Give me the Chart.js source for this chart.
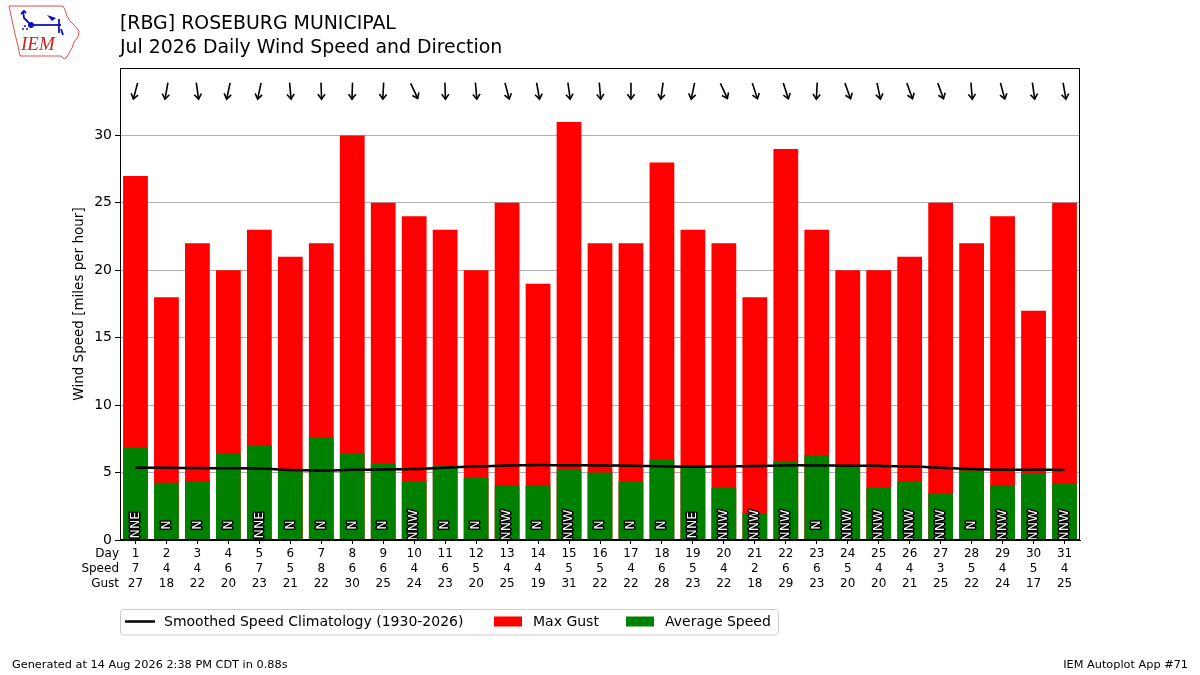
<!DOCTYPE html>
<html>
<head>
<meta charset="utf-8">
<script src="https://cdn.jsdelivr.net/npm/chart.js@4.4.1/dist/chart.umd.min.js"></script>
<style>
html,body{margin:0;padding:0;background:#fff;}
#wrap{position:relative;width:1200px;height:675px;}
</style>
</head>
<body>
<div id="wrap"><canvas id="c" width="1200" height="675"></canvas></div>
<script>
// ---- data ----
const days = ['1','2','3','4','5','6','7','8','9','10','11','12','13','14','15','16','17','18','19','20','21','22','23','24','25','26','27','28','29','30','31'];
const avgSpeed = [6.9,4.25,4.35,6.4,7.0,5.1,7.6,6.4,5.7,4.35,5.5,4.6,4.05,4.0,5.2,5.0,4.3,5.95,5.4,3.9,2.0,5.8,6.3,5.4,3.9,4.3,3.45,5.15,4.05,4.95,4.2];
const maxGust = [27,18,22,20,23,21,22,30,25,24,23,20,25,19,31,22,22,28,23,22,18,29,23,20,20,21,25,22,24,17,25];
const speedLabels = ['7','4','4','6','7','5','8','6','6','4','6','5','4','4','5','5','4','6','5','4','2','6','6','5','4','4','3','5','4','5','4'];
const gustLabels = ['27','18','22','20','23','21','22','30','25','24','23','20','25','19','31','22','22','28','23','22','18','29','23','20','20','21','25','22','24','17','25'];
const climo = [5.36,5.35,5.33,5.32,5.3,5.19,5.16,5.2,5.23,5.26,5.36,5.46,5.53,5.56,5.54,5.53,5.5,5.46,5.43,5.46,5.48,5.53,5.53,5.51,5.5,5.46,5.36,5.26,5.21,5.21,5.19];
const dirText = ['NNE','N','N','N','NNE','N','N','N','N','NNW','N','N','NNW','N','NNW','N','N','N','NNE','NNW','NNW','NNW','N','NNW','NNW','NNW','NNW','N','NNW','NNW','NNW'];
const dirDeg = [15,10,352,12,12,355,358,2,3,335,358,355,345,350,352,355,0,8,12,335,342,342,3,340,348,340,340,355,345,352,350];
const yTicks = [0,5,10,15,20,25,30];
const rowNames = ['Day','Speed','Gust'];
const titleLines = ['[RBG] ROSEBURG MUNICIPAL','Jul 2026 Daily Wind Speed and Direction'];
const legendItems = ['Smoothed Speed Climatology (1930-2026)','Max Gust','Average Speed'];
const footerLeft = 'Generated at 14 Aug 2026 2:38 PM CDT in 0.88s';
const footerRight = 'IEM Autoplot App #71';

const FONT = "'DejaVu Sans', 'Liberation Sans', sans-serif";
const xLabels = days.map((d,i)=>[d, speedLabels[i], gustLabels[i]]);

const TICK_LH = 14.6;
const TICK_TOP_PAD = 3;
const TICK_LEN = 4;

const extras = {
  id: 'extras',
  afterDatasetsDraw(chart) {
    const ctx = chart.ctx, x = chart.scales.x, y = chart.scales.y;
    ctx.save();
    ctx.font = "12.5px " + FONT;
    ctx.textAlign = 'center';
    ctx.textBaseline = 'middle';
    ctx.lineJoin = 'round';
    dirText.forEach((t,i)=>{
      const px = x.getPixelForValue(i), py = y.getPixelForValue(1.1);
      ctx.save();
      ctx.translate(px, py);
      ctx.rotate(-Math.PI/2);
      ctx.lineWidth = 3;
      ctx.strokeStyle = '#000';
      ctx.strokeText(t, 0, 0);
      ctx.fillStyle = '#fff';
      ctx.fillText(t, 0, 0);
      ctx.restore();
    });
    ctx.restore();
  },
  afterDraw(chart) {
    const ctx = chart.ctx, x = chart.scales.x, y = chart.scales.y, ca = chart.chartArea;
    ctx.save();
    // frame
    ctx.strokeStyle = '#000';
    ctx.lineWidth = 1;
    ctx.strokeRect(Math.round(ca.left)+0.5, Math.round(ca.top)+0.5, Math.round(ca.right-ca.left)-1, Math.round(ca.bottom-ca.top)-1);

    // arrows
    ctx.lineWidth = 1.6;
    ctx.strokeStyle = '#000';
    dirDeg.forEach((d,i)=>{
      const cx = x.getPixelForValue(i), cy = y.getPixelForValue(33.3);
      const toward = (d + 180) * Math.PI / 180;
      const ux = Math.sin(toward), uy = -Math.cos(toward);
      const L = 8.3;
      const x0 = cx - ux*L, y0 = cy - uy*L, x1 = cx + ux*L, y1 = cy + uy*L;
      ctx.beginPath(); ctx.moveTo(x0,y0); ctx.lineTo(x1,y1); ctx.stroke();
      const hl = 5, hw = 3.6;
      const bx = x1 - ux*hl, by = y1 - uy*hl;
      const nx = -uy, ny = ux;
      ctx.beginPath();
      ctx.moveTo(bx + nx*hw, by + ny*hw);
      ctx.lineTo(x1, y1);
      ctx.lineTo(bx - nx*hw, by - ny*hw);
      ctx.stroke();
    });

    // row labels
    ctx.fillStyle = '#000';
    ctx.font = "12px " + FONT;
    ctx.textAlign = 'right';
    ctx.textBaseline = 'middle';
    const top0 = ca.bottom + TICK_LEN + TICK_TOP_PAD;
    rowNames.forEach((n,k)=>{
      ctx.fillText(n, 119, top0 + TICK_LH*(k+0.5));
    });

    // title
    ctx.textAlign = 'left';
    ctx.textBaseline = 'middle';
    ctx.font = "18.9px " + FONT;
    ctx.fillText(titleLines[0], 120, 24);
    ctx.fillText(titleLines[1], 120, 48);

    // footer
    ctx.font = "11.3px " + FONT;
    ctx.textBaseline = 'middle';
    ctx.fillText(footerLeft, 12, 665);
    ctx.textAlign = 'right';
    ctx.fillText(footerRight, 1188, 665);

    // legend
    const lx = 120.5, ly = 609.5, lw = 658, lh = 25.5;
    ctx.strokeStyle = '#cccccc';
    ctx.lineWidth = 1;
    ctx.beginPath();
    if (ctx.roundRect) ctx.roundRect(lx, ly, lw, lh, 3); else ctx.rect(lx, ly, lw, lh);
    ctx.fillStyle = 'rgba(255,255,255,0.8)';
    ctx.fill();
    ctx.stroke();
    ctx.fillStyle = '#000';
    ctx.font = "14px " + FONT;
    ctx.textAlign = 'left';
    ctx.textBaseline = 'middle';
    const midY = 621.5;
    ctx.strokeStyle = '#000';
    ctx.lineWidth = 2.5;
    ctx.beginPath(); ctx.moveTo(125, midY); ctx.lineTo(155, midY); ctx.stroke();
    ctx.fillText(legendItems[0], 164, midY + 1);
    ctx.fillStyle = '#ff0000';
    ctx.fillRect(494, 616.5, 28, 10);
    ctx.fillStyle = '#000';
    ctx.fillText(legendItems[1], 533, midY + 1);
    ctx.fillStyle = '#008000';
    ctx.fillRect(626, 616.5, 28, 10);
    ctx.fillStyle = '#000';
    ctx.fillText(legendItems[2], 665, midY + 1);

    drawLogo(ctx);
    ctx.restore();
  }
};

function drawLogo(ctx) {
  ctx.save();
  ctx.strokeStyle = '#e05050';
  ctx.lineWidth = 1;
  ctx.beginPath();
  ctx.moveTo(9,6);
  ctx.lineTo(63,6);
  ctx.lineTo(65,10);
  ctx.lineTo(67,16);
  ctx.lineTo(70,21);
  ctx.lineTo(75,26);
  ctx.lineTo(79,31);
  ctx.lineTo(78,37);
  ctx.lineTo(74,42);
  ctx.lineTo(72,48);
  ctx.lineTo(69,53);
  ctx.lineTo(67,57);
  ctx.lineTo(64,59);
  ctx.lineTo(61,56);
  ctx.lineTo(20,56);
  ctx.lineTo(18,46);
  ctx.lineTo(15,34);
  ctx.lineTo(12,20);
  ctx.closePath();
  ctx.stroke();
  // blue figure
  ctx.strokeStyle = '#1010c0';
  ctx.fillStyle = '#1010c0';
  ctx.lineWidth = 1.8;
  ctx.beginPath(); ctx.moveTo(23,11); ctx.lineTo(24,18); ctx.lineTo(29,23); ctx.stroke();
  ctx.beginPath(); ctx.moveTo(21,14); ctx.lineTo(24,11); ctx.lineTo(26,13); ctx.stroke();
  ctx.beginPath(); ctx.arc(31,25,3,0,Math.PI*2); ctx.fill();
  ctx.beginPath(); ctx.moveTo(31,25); ctx.lineTo(61,25); ctx.stroke();
  ctx.beginPath(); ctx.moveTo(59,19); ctx.lineTo(59,33); ctx.stroke();
  ctx.beginPath(); ctx.moveTo(47,15); ctx.lineTo(56,18); ctx.lineTo(52,21); ctx.closePath(); ctx.fill();
  ctx.beginPath(); ctx.moveTo(61,29); ctx.lineTo(63,35); ctx.stroke();
  ctx.beginPath(); ctx.arc(25,26,1,0,Math.PI*2); ctx.fill();
  ctx.beginPath(); ctx.arc(23,29,1,0,Math.PI*2); ctx.fill();
  ctx.beginPath(); ctx.arc(27,29,1,0,Math.PI*2); ctx.fill();
  // IEM text
  ctx.fillStyle = '#d02020';
  ctx.font = "italic 19px 'Liberation Serif', 'DejaVu Serif', serif";
  ctx.textAlign = 'left';
  ctx.textBaseline = 'alphabetic';
  ctx.fillText('IEM', 21, 50);
  ctx.restore();
}

new Chart(document.getElementById('c'), {
  type: 'bar',
  data: {
    labels: xLabels,
    datasets: [
      {
        type: 'line',
        label: legendItems[0],
        data: climo,
        borderColor: '#000',
        borderWidth: 2.5,
        pointRadius: 0,
        tension: 0.4,
        fill: false,
        order: 0
      },
      {
        label: legendItems[2],
        data: avgSpeed,
        backgroundColor: '#008000',
        borderColor: '#008000',
        borderWidth: 0,
        inflateAmount: 0,
        grouped: false,
        barPercentage: 0.8,
        categoryPercentage: 1.0,
        order: 1
      },
      {
        label: legendItems[1],
        data: maxGust,
        backgroundColor: '#ff0000',
        borderColor: '#ff0000',
        borderWidth: 0,
        inflateAmount: 0,
        grouped: false,
        barPercentage: 0.8,
        categoryPercentage: 1.0,
        order: 2
      }
    ]
  },
  options: {
    responsive: false,
    animation: false,
    devicePixelRatio: 1,
    layout: { padding: { left: 0, right: 120, top: 68, bottom: 0 } },
    plugins: {
      legend: { display: false },
      tooltip: { enabled: false },
      title: { display: false }
    },
    scales: {
      x: {
        type: 'category',
        offset: true,
        afterFit(s) { s.height = 135; },
        grid: { offset: false, drawOnChartArea: false, drawTicks: true, tickLength: TICK_LEN, color: '#000', tickColor: '#000' },
        border: { display: true, color: '#000', width: 1 },
        ticks: {
          color: '#000',
          font: { family: FONT, size: 12, lineHeight: TICK_LH/12 },
          padding: TICK_TOP_PAD,
          maxRotation: 0,
          autoSkip: false
        }
      },
      y: {
        min: 0,
        max: 35,
        z: 1,
        afterFit(s) { s.width = 120; },
        afterBuildTicks(s) { s.ticks = yTicks.concat([35]).map(v => ({ value: v })); },
        grid: {
          color: (c) => (c.tick && c.tick.value === 35) ? 'rgba(0,0,0,0)' : '#b0b0b0',
          tickColor: (c) => (c.tick && c.tick.value === 35) ? 'rgba(0,0,0,0)' : '#000',
          tickLength: 5,
          lineWidth: 1
        },
        border: { display: true, color: '#000', width: 1 },
        ticks: {
          color: '#000',
          font: { family: FONT, size: 14 },
          padding: 3,
          callback: (v) => v === 35 ? '' : String(v)
        },
        title: {
          display: true,
          text: 'Wind Speed [miles per hour]',
          color: '#000',
          font: { family: FONT, size: 13.5 },
          padding: { top: 71, bottom: 0 }
        }
      }
    }
  },
  plugins: [extras]
});
</script>
</body>
</html>
